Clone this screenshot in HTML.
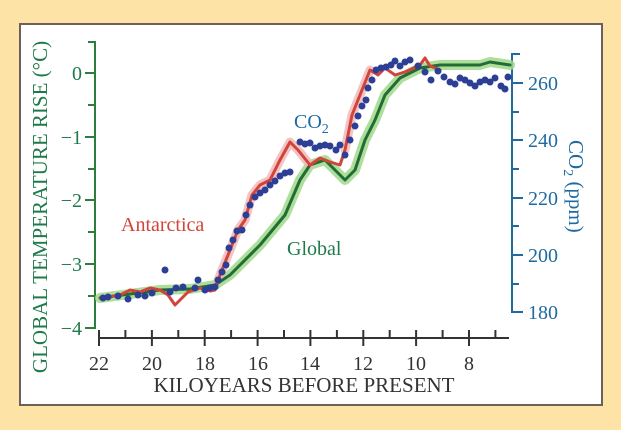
<!DOCTYPE html>
<html><head><meta charset="utf-8"><style>
html,body{margin:0;padding:0;background:#fde3a6;}
svg{display:block;font-family:"Liberation Serif",serif;}
</style></head><body>
<svg width="621" height="430" viewBox="0 0 621 430">
<rect x="0" y="0" width="621" height="430" fill="#fde3a6"/>
<rect x="20" y="24" width="582" height="381" fill="#fff" stroke="#6b6158" stroke-width="2"/>
<g stroke="#2e7d3a" stroke-width="2" fill="none">
<path d="M88 42 H95 V328 H88"/>
<path d="M85 73H95M88 105H95M85 137H95M88 169H95M85 200H95M88 232H95M85 264H95M88 296H95M85 328H95"/>
</g>
<g fill="#1e7a4a" font-size="20" text-anchor="end">
<text x="82" y="80">0</text><text x="82" y="144">−1</text><text x="82" y="207">−2</text><text x="82" y="271">−3</text><text x="82" y="335">−4</text>
</g>
<text transform="translate(47,207) rotate(-90)" fill="#1e7a4a" font-size="21" text-anchor="middle">GLOBAL TEMPERATURE RISE (°C)</text>
<g stroke="#1f6aa0" stroke-width="2" fill="none">
<path d="M520 54 H512 V312 H520"/>
<path d="M512 83H523M512 112H519M512 140H523M512 169H519M512 198H523M512 226H519M512 255H523M512 284H519M512 312H523"/>
</g>
<g fill="#1f6aa0" font-size="20">
<text x="528" y="90">260</text><text x="528" y="147">240</text><text x="528" y="205">220</text><text x="528" y="262">200</text><text x="528" y="319">180</text>
</g>
<text transform="translate(569,140) rotate(90)" fill="#1f6aa0" font-size="21">CO<tspan font-size="14" dy="5">2</tspan><tspan dy="-5"> (ppm)</tspan></text>
<g stroke="#333" stroke-width="2" fill="none">
<path d="M99 338 H509"/>
<path d="M99 330V346M125.4 330V338M151.9 330V346M178.3 330V338M204.7 330V346M231.1 330V338M257.6 330V346M284 330V338M310.4 330V346M336.9 330V338M363.3 330V346M389.7 330V338M416.1 330V346M442.6 330V338M469 330V346M495.4 330V338"/>
</g>
<g fill="#333" font-size="20" text-anchor="middle">
<text x="99" y="370">22</text><text x="152" y="370">20</text><text x="205" y="370">18</text><text x="258" y="370">16</text><text x="310" y="370">14</text><text x="363" y="370">12</text><text x="416" y="370">10</text><text x="469" y="370">8</text>
<text x="304" y="392" font-size="21">KILOYEARS BEFORE PRESENT</text>
</g>
<g fill="none" stroke-linejoin="round" stroke-linecap="round">
<polyline stroke="#9fd98a" stroke-width="10" opacity="0.85" points="100,298 130,294 160,290 190,289 215,285 230,275 260,245 285,215 300,180 310,165 325,160 335,170 345,180 355,170 365,140 375,120 385,95 400,78 420,68 440,65 460,65 480,65 490,62 510,65"/>
<polyline stroke="#f2b8b8" stroke-width="9" opacity="0.85" points="218,280 230,250 238,230 245,220 252,195 260,185 270,180 280,160 290,142 298,150 310,165"/>
<polyline stroke="#f2b8b8" stroke-width="9" opacity="0.85" points="345,150 352,115 360,95 370,70"/>
<polyline stroke="#236b37" stroke-width="3" points="100,298 130,294 160,290 190,289 215,285 230,275 260,245 285,215 300,180 310,165 325,160 335,170 345,180 355,170 365,140 375,120 385,95 400,78 420,68 440,65 460,65 480,65 490,62 510,65"/>
<polyline stroke="#d2443a" stroke-width="3" points="100,298 120,295 130,290 140,292 150,288 160,290 168,295 175,305 182,298 188,292 200,288 210,291 215,290 220,275 230,250 238,230 245,220 252,195 260,185 270,180 280,160 290,142 298,150 310,165 320,158 330,162 340,165 345,150 352,115 360,95 370,70 378,75 385,68 395,75 405,72 420,65 425,58 430,66 440,70"/>
</g>
<g fill="#2c3f95">
<circle cx="103" cy="298" r="3.5"/><circle cx="108" cy="297" r="3.5"/><circle cx="118" cy="296" r="3.5"/><circle cx="128" cy="299" r="3.5"/><circle cx="138" cy="295" r="3.5"/><circle cx="145" cy="296" r="3.5"/><circle cx="152" cy="293" r="3.5"/><circle cx="165" cy="270" r="3.5"/><circle cx="170" cy="292" r="3.5"/><circle cx="176" cy="288" r="3.5"/><circle cx="183" cy="287" r="3.5"/><circle cx="195" cy="288" r="3.5"/><circle cx="198" cy="280" r="3.5"/><circle cx="205" cy="290" r="3.5"/><circle cx="210" cy="288" r="3.5"/><circle cx="215" cy="287" r="3.5"/><circle cx="218" cy="280" r="3.5"/><circle cx="222" cy="272" r="3.5"/><circle cx="226" cy="265" r="3.5"/><circle cx="229" cy="248" r="3.5"/><circle cx="233" cy="240" r="3.5"/><circle cx="237" cy="231" r="3.5"/><circle cx="242" cy="230" r="3.5"/><circle cx="246" cy="215" r="3.5"/><circle cx="250" cy="205" r="3.5"/><circle cx="255" cy="197" r="3.5"/><circle cx="260" cy="193" r="3.5"/><circle cx="265" cy="190" r="3.5"/><circle cx="270" cy="185" r="3.5"/><circle cx="275" cy="181" r="3.5"/><circle cx="280" cy="176" r="3.5"/><circle cx="285" cy="173" r="3.5"/><circle cx="290" cy="172" r="3.5"/>
<circle cx="300" cy="142" r="3.5"/><circle cx="305" cy="144" r="3.5"/><circle cx="310" cy="143" r="3.5"/><circle cx="315" cy="148" r="3.5"/><circle cx="320" cy="146" r="3.5"/><circle cx="325" cy="145" r="3.5"/><circle cx="330" cy="146" r="3.5"/><circle cx="336" cy="150" r="3.5"/><circle cx="340" cy="145" r="3.5"/><circle cx="345" cy="155" r="3.5"/><circle cx="350" cy="140" r="3.5"/><circle cx="355" cy="126" r="3.5"/><circle cx="358" cy="116" r="3.5"/><circle cx="362" cy="106" r="3.5"/><circle cx="366" cy="100" r="3.5"/><circle cx="368" cy="88" r="3.5"/><circle cx="372" cy="80" r="3.5"/><circle cx="376" cy="70" r="3.5"/><circle cx="381" cy="68" r="3.5"/><circle cx="386" cy="67" r="3.5"/><circle cx="391" cy="65" r="3.5"/><circle cx="395" cy="61" r="3.5"/><circle cx="400" cy="66" r="3.5"/><circle cx="405" cy="62" r="3.5"/><circle cx="410" cy="60" r="3.5"/><circle cx="418" cy="66" r="3.5"/><circle cx="425" cy="72" r="3.5"/><circle cx="431" cy="80" r="3.5"/><circle cx="438" cy="71" r="3.5"/><circle cx="444" cy="77" r="3.5"/><circle cx="450" cy="82" r="3.5"/><circle cx="455" cy="84" r="3.5"/><circle cx="460" cy="78" r="3.5"/><circle cx="465" cy="80" r="3.5"/><circle cx="470" cy="83" r="3.5"/><circle cx="475" cy="86" r="3.5"/><circle cx="480" cy="82" r="3.5"/><circle cx="485" cy="80" r="3.5"/><circle cx="490" cy="82" r="3.5"/><circle cx="495" cy="78" r="3.5"/><circle cx="501" cy="86" r="3.5"/><circle cx="505" cy="89" r="3.5"/><circle cx="508" cy="77" r="3.5"/>
</g>
<text x="294" y="128" fill="#1f6aa0" font-size="20">CO<tspan font-size="14" dy="5">2</tspan></text>
<text x="121" y="231" fill="#d2443a" font-size="20">Antarctica</text>
<text x="287" y="255" fill="#1e7a4a" font-size="20">Global</text>
</svg>
</body></html>
